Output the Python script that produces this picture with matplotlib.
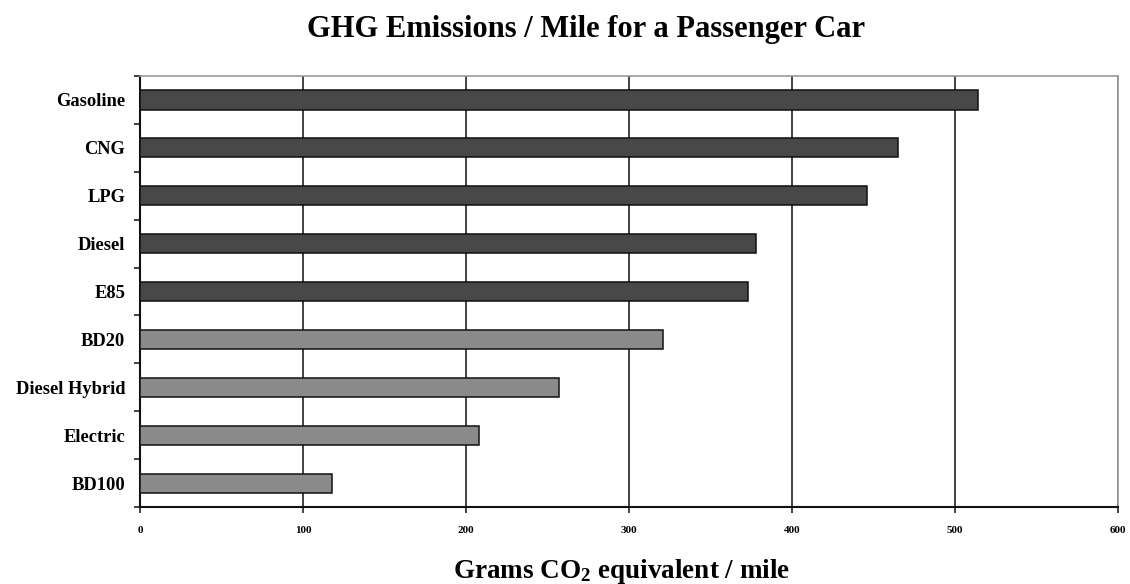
import matplotlib
matplotlib.use("Agg")
import matplotlib.pyplot as plt
from matplotlib.ticker import FixedLocator, NullFormatter

categories = ["Gasoline", "CNG", "LPG", "Diesel", "E85", "BD20",
              "Diesel Hybrid", "Electric", "BD100"]
values = [514, 465, 446, 378, 373, 321, 257, 208, 118]
groups = ["dark", "dark", "dark", "dark", "dark", "light", "light", "light", "light"]
x_ticks = [0, 100, 200, 300, 400, 500, 600]

colors = {"dark": "#484848", "light": "#8a8a8a"}

plt.rcParams['font.family'] = ['Liberation Serif', 'DejaVu Serif']
plt.rcParams['font.weight'] = 'bold'
plt.rcParams['mathtext.fontset'] = 'custom'
plt.rcParams['mathtext.rm'] = 'Liberation Serif:bold'
plt.rcParams['mathtext.it'] = 'Liberation Serif:bold'
plt.rcParams['mathtext.bf'] = 'Liberation Serif:bold'

fig = plt.figure(figsize=(11.3, 5.84), dpi=100)
ax = fig.add_axes([0.1239, 0.1318, 0.8655, 0.7381])

ypos = list(range(len(categories)))
ax.barh(ypos, values, height=0.4, color=[colors[g] for g in groups],
        edgecolor="#111111", linewidth=1.1, zorder=3)

ax.set_xlim(0, 600)
ax.set_ylim(len(categories) - 0.5, -0.5)
ax.set_xticks(x_ticks)
ax.set_xticklabels([str(t) for t in x_ticks], fontsize=8, fontweight='bold')
ax.set_yticks(ypos)
ax.set_yticklabels(categories, fontsize=13.3, fontweight='bold')
ax.tick_params(axis='y', which='major', length=0, pad=10.5)
ax.yaxis.set_minor_locator(FixedLocator([i - 0.5 for i in range(len(categories) + 1)]))
ax.yaxis.set_minor_formatter(NullFormatter())
ax.tick_params(axis='y', which='minor', length=4, width=1.2, color='#222222', direction='out')
ax.tick_params(axis='x', which='major', length=4, width=1.2, color='#222222', pad=10, direction='out')

ax.grid(axis='x', color='#222222', linewidth=1.2, zorder=0)
ax.set_axisbelow(True)
for s in ['left', 'bottom']:
    ax.spines[s].set_color('#111111')
    ax.spines[s].set_linewidth(1.5)
for s in ['top', 'right']:
    ax.spines[s].set_color('#999999')
    ax.spines[s].set_linewidth(1.2)

fig.text(0.519, 0.949, "GHG Emissions / Mile for a Passenger Car",
         ha='center', va='center', fontsize=22, fontweight='bold')
fig.text(0.550, 0.021, r"Grams CO$_{2}$ equivalent / mile",
         ha='center', va='center', fontsize=19.5, fontweight='bold')

fig.savefig("out.png", dpi=100, facecolor='white')
